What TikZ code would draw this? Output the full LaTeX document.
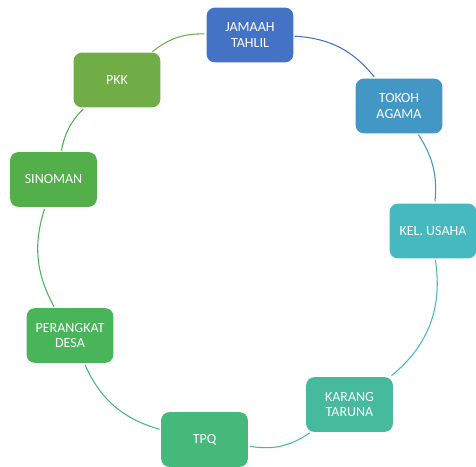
\documentclass[tikz,border=0pt]{standalone}
\usepackage{fontspec}
\setmainfont{Carlito}
\usepackage{tikz}
\usetikzlibrary{arrows,positioning,calc,shapes}
\tikzset{>=latex}
\definecolor{cjamaah}{HTML}{4472C4}
\definecolor{ctokoh}{HTML}{4397C4}
\definecolor{ckel}{HTML}{45B8C0}
\definecolor{ckarang}{HTML}{45BA9D}
\definecolor{ctpq}{HTML}{45B97A}
\definecolor{cperangkat}{HTML}{48B55A}
\definecolor{csinoman}{HTML}{53AF4A}
\definecolor{cpkk}{HTML}{70AD47}
\tikzset{box/.style={rounded corners=6pt, minimum width=65pt, minimum height=41pt,
  inner sep=2pt, align=center, text=white, font=\fontsize{10.5}{11.3}\selectfont}}

\begin{document}
\begin{tikzpicture}[x=0.75pt,y=0.75pt]
\useasboundingbox (0,0) rectangle (476,-467);
\node[box,fill=cjamaah] (jamaah) at (250,-35) {JAMAAH\\TAHLIL};
\node[box,fill=ctokoh] (tokoh) at (399,-106) {TOKOH\\AGAMA};
\node[box,fill=ckel] (kel) at (433,-231) {KEL. USAHA};
\node[box,fill=ckarang] (karang) at (349.5,-404.5) {KARANG\\TARUNA};
\node[box,fill=ctpq] (tpq) at (204.5,-439.5) {TPQ};
\node[box,fill=cperangkat] (perangkat) at (70,-335.5) {PERANGKAT\\DESA};
\node[box,fill=csinoman] (sinoman) at (53.5,-179.5) {SINOMAN};
\node[box,fill=cpkk] (pkk) at (117,-80) {PKK};
\begin{scope}[line width = 0.8pt, shorten >=1.5pt, shorten <=1pt]
\draw[color=cjamaah] (jamaah) to[bend left=24] (tokoh);
\draw[color=ctokoh] (tokoh) to[bend left=19] (kel);
\draw[color=ckel] (kel) to[bend left=30] (karang);
\draw[color=ckarang] (karang) to[bend left=22] (tpq);
\draw[color=ctpq] (tpq) to[bend left=25] (perangkat);
\draw[color=cperangkat] (perangkat) to[bend left=23] (sinoman);
\draw[color=csinoman] (sinoman) to[bend left=17] (pkk);
\draw[color=cpkk] (pkk) to[bend left=20] (jamaah);
\end{scope}
%\draw[help lines] (0,0) grid (476,-467);
\end{tikzpicture}
\end{document}
